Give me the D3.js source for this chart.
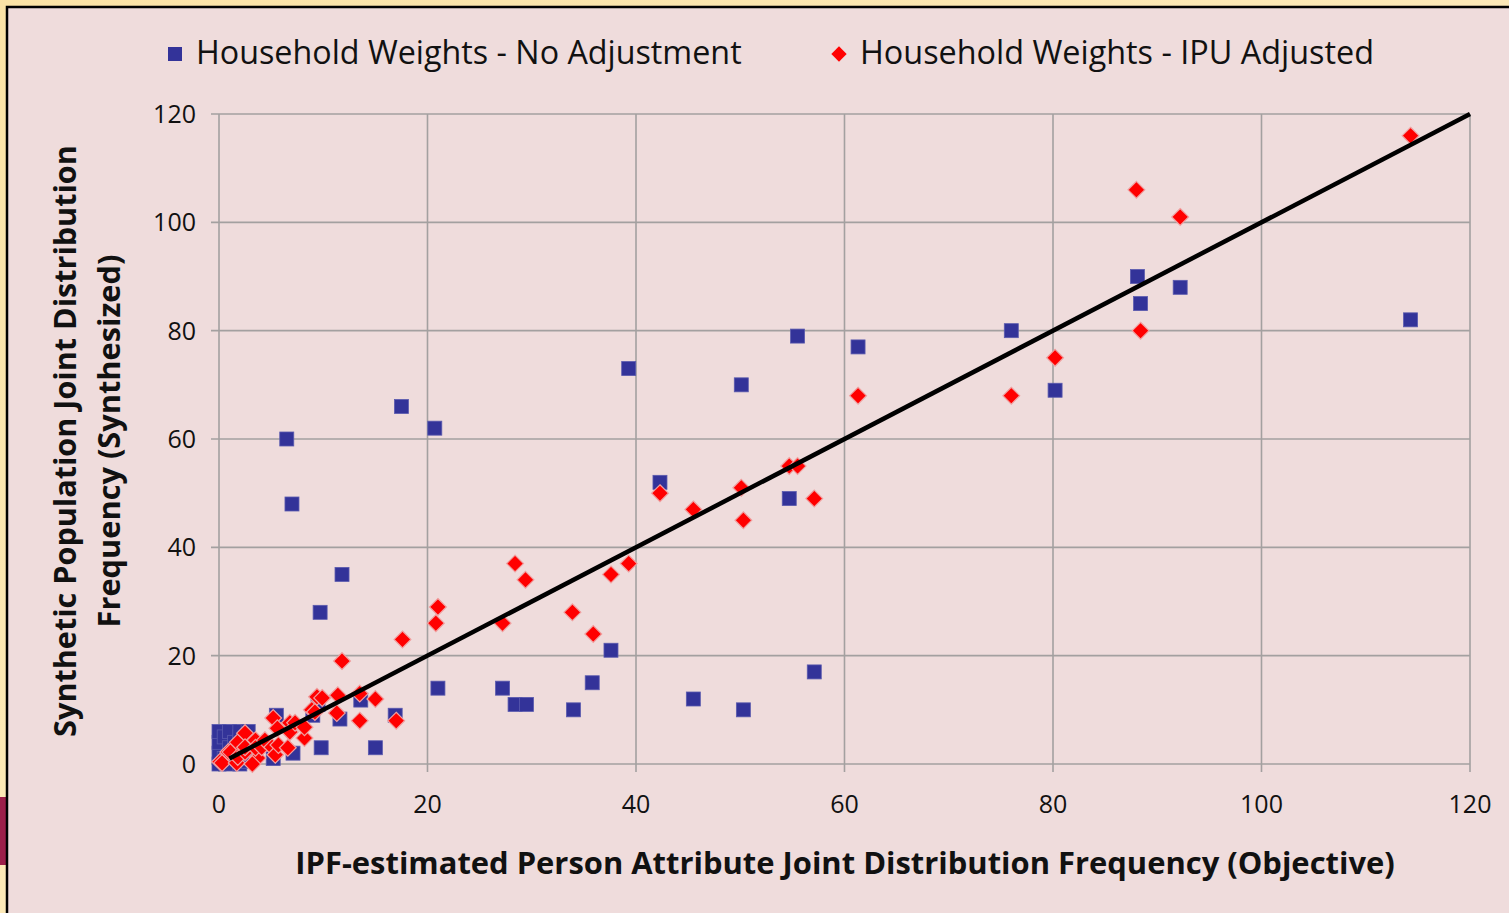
<!DOCTYPE html>
<html lang="en">
<head>
    <meta charset="UTF-8">
    <script src="https://d3js.org/d3.v7.min.js"></script>
    <title>Synthetic vs IPF-estimated joint distribution</title>
    <style>
        body {
            margin: 0;
            background: #fbe6b4;
            overflow: hidden;
        }
        text {
            font-family: "Open Sans", "DejaVu Sans", sans-serif;
            fill: #111;
        }
    </style>
</head>
<body>
    <script>
        // Données : [objectif IPF, fréquence synthétisée]
        var noAdjustment = [
            [0, 0], [0, 2], [0, 4], [0, 6], [0.5, 1], [0.5, 5], [1, 0], [1, 2], [1, 3],
            [1, 6], [1.5, 4], [2, 0], [2, 1], [2, 5], [2, 6], [2.8, 0.5], [2.8, 2],
            [2.8, 4], [2.8, 6], [5.2, 1], [5.5, 9], [6.5, 60], [7, 48], [7.1, 2],
            [9, 9], [9.5, 11], [9.8, 3], [9.7, 28], [11.6, 8.3], [11.8, 35], [13.6, 11.8],
            [15, 3], [16.9, 9], [17.5, 66], [20.7, 62], [21, 14], [27.2, 14], [28.4, 11],
            [29.5, 11], [34, 10], [35.8, 15], [37.6, 21], [39.3, 73], [42.3, 52],
            [45.5, 12], [50.1, 70], [50.3, 10], [54.7, 49], [55.5, 79], [57.1, 17],
            [61.3, 77], [76, 80], [80.2, 69], [88.1, 90], [88.4, 85], [92.2, 88],
            [114.3, 82]
        ];

        var ipuAdjusted = [
            [0.1, 0.4], [0.3, 0.2], [0.9, 2.2], [1.1, 2.2], [1.7, 0.2], [1.8, 4],
            [1.8, 1.3], [2.5, 5.7], [2.5, 2.2], [2.5, 3.1], [3.5, 4.4], [3.7, 1.1],
            [3.2, 0], [3.5, 3], [4.1, 3.1], [4.4, 4.4], [5.1, 3.1], [5.4, 1.7],
            [5.2, 8.5], [5.6, 6.6], [5.7, 3.5], [6.6, 3], [6.8, 7.6], [6.8, 5.9],
            [7.3, 7.6], [8.2, 4.8], [8.2, 6.8], [8.9, 10], [9.2, 9.6], [9.4, 12.4],
            [9.9, 12.2], [11.3, 9.4], [11.4, 12.7], [11.8, 19], [13.5, 13], [13.5, 8],
            [15, 12], [17, 8], [17.6, 23], [20.8, 26], [21, 29], [27.2, 26], [28.4, 37],
            [29.4, 34], [33.9, 28], [35.9, 24], [37.6, 35], [39.3, 37], [42.3, 50],
            [45.5, 47], [50.1, 51], [50.3, 45], [54.7, 55], [55.5, 55], [57.1, 49],
            [61.3, 68], [76, 68], [80.2, 75], [88, 106], [88.4, 80], [92.2, 101],
            [114.3, 116]
        ];

        // Droite y = x
        var fitLine = [[1, 1], [120, 120]];

        var xTicks = [0, 20, 40, 60, 80, 100, 120];
        var yTicks = [0, 20, 40, 60, 80, 100, 120];

        var seriesNames = ["Household Weights - No Adjustment", "Household Weights - IPU Adjusted"];
        var xTitle = "IPF-estimated Person Attribute Joint Distribution Frequency (Objective)";
        var yTitle = ["Synthetic Population Joint Distribution", "Frequency (Synthesized)"];

        var width = 1509,
            height = 913;

        var svg = d3.select("body")
            .append("svg")
            .attr("width", width)
            .attr("height", height);

        // Fond type diapositive
        var grad = svg.append("defs").append("linearGradient")
            .attr("id", "bg").attr("x1", 0).attr("y1", 0).attr("x2", 1).attr("y2", 1);
        grad.append("stop").attr("offset", "0%").attr("stop-color", "#fbe3a6");
        grad.append("stop").attr("offset", "100%").attr("stop-color", "#fdefc9");
        svg.append("rect").attr("width", width).attr("height", height).attr("fill", "url(#bg)");
        // petit bout de logo à gauche
        svg.append("rect").attr("x", 0).attr("y", 797).attr("width", 6).attr("height", 68).attr("fill", "#9c1f4a");

        svg.append("rect")
            .attr("x", 7).attr("y", 7)
            .attr("width", width + 10).attr("height", height + 10)
            .attr("fill", "#efdcdc")
            .attr("stroke", "#000")
            .attr("stroke-width", 2.5);

        var x = d3.scaleLinear().domain([0, 120]).range([219, 1470]);
        var y = d3.scaleLinear().domain([0, 120]).range([764, 114]);

        // Ajuste la taille de police pour occuper une largeur donnée
        function fitText(sel, target) {
            var size = parseFloat(sel.style("font-size"));
            var w = sel.node().getComputedTextLength();
            sel.style("font-size", (size * target / w) + "px");
        }

        // Grille
        var grid = svg.append("g").attr("stroke", "#a3a0a0").attr("stroke-width", 1.6);
        grid.selectAll(".v").data(xTicks).join("line")
            .attr("x1", d => x(d)).attr("x2", d => x(d))
            .attr("y1", y(120)).attr("y2", y(0) + 8);
        grid.selectAll(".h").data(yTicks).join("line")
            .attr("x1", x(0) - 8).attr("x2", x(120))
            .attr("y1", d => y(d)).attr("y2", d => y(d));

        // Libellés des graduations
        svg.append("g").selectAll("text").data(yTicks).join("text")
            .attr("x", 196).attr("y", d => y(d))
            .attr("dy", "0.36em")
            .attr("text-anchor", "end")
            .style("font-size", "25px")
            .text(d => d);

        svg.append("g").selectAll("text").data(xTicks).join("text")
            .attr("x", d => x(d)).attr("y", 813)
            .attr("text-anchor", "middle")
            .style("font-size", "25px")
            .text(d => d);

        // Points : carrés bleus
        var sq = 14;
        svg.append("g").selectAll("rect").data(noAdjustment).join("rect")
            .attr("x", d => x(d[0]) - sq / 2)
            .attr("y", d => y(d[1]) - sq / 2)
            .attr("width", sq).attr("height", sq)
            .attr("fill", "#333399")
            .attr("stroke", "#5a5aae")
            .attr("stroke-width", 0.8);

        // Points : losanges rouges
        var diamond = d3.symbol().type(d3.symbolDiamond2).size(180);
        svg.append("g").selectAll("path").data(ipuAdjusted).join("path")
            .attr("d", diamond)
            .attr("transform", d => "translate(" + x(d[0]) + "," + y(d[1]) + ")")
            .attr("fill", "#ff0000")
            .attr("stroke", "#f0a0a0")
            .attr("stroke-width", 1.2);

        // Droite 1:1
        svg.append("path")
            .datum(fitLine)
            .attr("d", d3.line().x(d => x(d[0])).y(d => y(d[1])))
            .attr("stroke", "#000")
            .attr("stroke-width", 4.5)
            .attr("fill", "none");

        // Légende
        svg.append("rect").attr("x", 168).attr("y", 47).attr("width", 14).attr("height", 14)
            .attr("fill", "#333399");
        svg.append("path").attr("d", d3.symbol().type(d3.symbolDiamond2).size(150))
            .attr("transform", "translate(839,54)")
            .attr("fill", "#ff0000");
        var l1 = svg.append("text").attr("x", 196).attr("y", 64)
            .style("font-size", "31px").text(seriesNames[0]);
        fitText(l1, 546);
        var l2 = svg.append("text").attr("x", 860).attr("y", 64)
            .style("font-size", "31px").text(seriesNames[1]);
        fitText(l2, 514);

        // Titres des axes
        var xt = svg.append("text")
            .attr("x", 845).attr("y", 874)
            .attr("text-anchor", "middle")
            .style("font-size", "28px").style("font-weight", "bold")
            .text(xTitle);
        fitText(xt, 1100);

        var yt1 = svg.append("text")
            .attr("transform", "translate(76,441) rotate(-90)")
            .attr("text-anchor", "middle")
            .style("font-size", "28px").style("font-weight", "bold")
            .text(yTitle[0]);
        fitText(yt1, 592);
        var yt2 = svg.append("text")
            .attr("transform", "translate(120,441) rotate(-90)")
            .attr("text-anchor", "middle")
            .style("font-size", "28px").style("font-weight", "bold")
            .text(yTitle[1]);
        fitText(yt2, 373);
    </script>
</body>
</html>
